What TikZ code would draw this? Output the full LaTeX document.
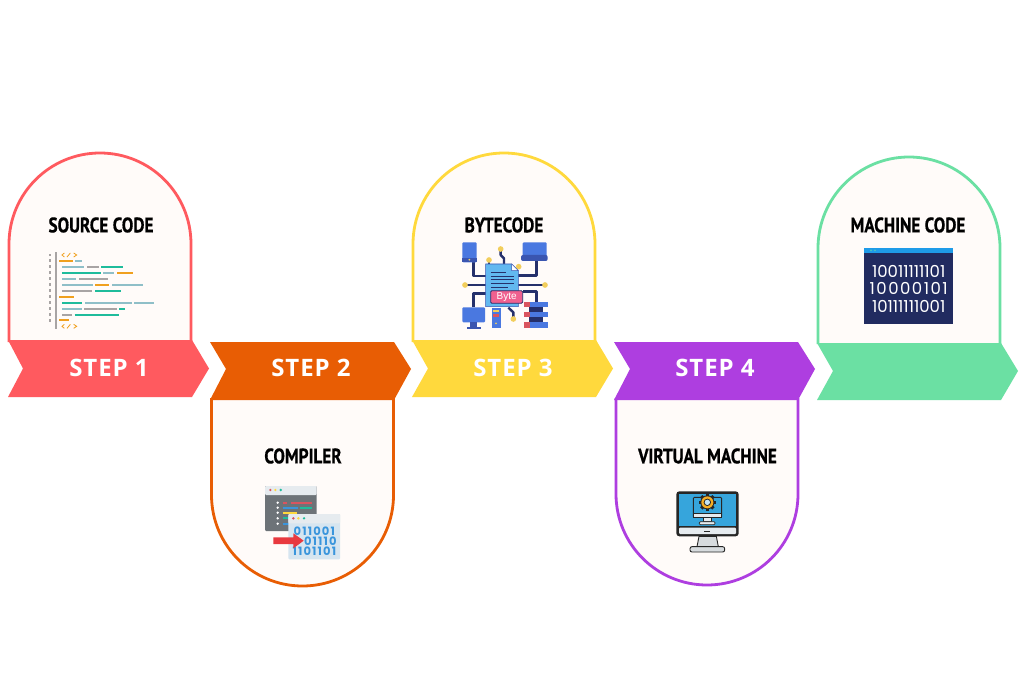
\documentclass[tikz,border=0pt]{standalone}
\usepackage{fontspec}
\setmainfont{Open Sans}
\newfontfamily\titlefont[BoldFeatures={FakeStretch=0.82,FakeBold=0.6}]{PT Sans}
\newfontfamily\stepfont[LetterSpace=4]{Open Sans}
\newfontfamily\binfont{Poppins}
\newfontfamily\binfontwide[LetterSpace=9]{Poppins}
\newfontfamily\compfont[LetterSpace=10]{Poppins}
\newfontfamily\bytefont{Liberation Sans}
\definecolor{cardfill}{HTML}{FFFBF9}
\definecolor{cA}{HTML}{FF5A5F}
\definecolor{cB}{HTML}{E85D04}
\definecolor{cC}{HTML}{FFD93D}
\definecolor{cD}{HTML}{AE3EE0}
\definecolor{cE}{HTML}{6BE0A3}
\definecolor{codeO}{HTML}{F0A01E}
\definecolor{codeL}{HTML}{8FBFC8}
\definecolor{codeG}{HTML}{A8A4A4}
\definecolor{codeT}{HTML}{1FBC9C}
\definecolor{navy}{HTML}{25306B}
\definecolor{devblue}{HTML}{4A78E0}
\definecolor{devdark}{HTML}{3A55B0}
\definecolor{wireY}{HTML}{F2CE5C}
\definecolor{fileblue}{HTML}{62B8F0}
\definecolor{tagpink}{HTML}{F0608F}
\definecolor{rackred}{HTML}{D9545F}
\definecolor{arrowred}{HTML}{E8393F}
\definecolor{barblue}{HTML}{1E9BE8}
\definecolor{wingray}{HTML}{6D7378}
\definecolor{winbar}{HTML}{E6EBEF}
\definecolor{winbody}{HTML}{D6E5F0}
\definecolor{binblue}{HTML}{3A95DC}
\definecolor{screenblue}{HTML}{36A5DC}
\newcommand{\zr}[5]{\fill[#1] (#2,#3) rectangle (#4,#5);}
\newcommand{\cbar}[4]{\draw[#1,line width=2pt] (#2,#4) -- (#3,#4);}
\tikzset{
  x=1pt,y=-1pt,
  cardline/.style={fill=cardfill,line width=2.8pt},
  title/.style={font=\titlefont\fontsize{21}{21}\selectfont\bfseries,text=black,inner sep=0pt},
  steptext/.style={font=\stepfont\fontsize{24}{24}\selectfont\bfseries,text=white,inner sep=0pt},
  wire/.style={draw=navy,line width=2.4pt,line join=round},
  compbin/.style={inner sep=0pt,text=binblue,font=\compfont\fontsize{11.5}{11.5}\selectfont\bfseries},
  machbin/.style={inner sep=0pt,text=white},
}
\begin{document}
\begin{tikzpicture}
\useasboundingbox[fill=white] (0,0) rectangle (1024,700);
% cards
\draw[cardline,draw=cA] (9,342) -- (9,244) .. controls (9,193.7) and (49.7,153) .. (100,153) .. controls (150.3,153) and (191,193.7) .. (191,244) -- (191,342);
\draw[cardline,draw=cC] (413,342) -- (413,244) .. controls (413,193.7) and (453.7,153) .. (504,153) .. controls (554.3,153) and (595,193.7) .. (595,244) -- (595,342);
\draw[cardline,draw=cE] (818,344) -- (818,248) .. controls (818,197.7) and (858.7,157) .. (909,157) .. controls (959.3,157) and (1000,197.7) .. (1000,248) -- (1000,344);
\draw[cardline,draw=cB] (211.5,398) -- (211.5,495) .. controls (211.5,545.3) and (252.2,586) .. (302.5,586) .. controls (352.8,586) and (393.5,545.3) .. (393.5,495) -- (393.5,398);
\draw[cardline,draw=cD] (616,398) -- (616,494) .. controls (616,544.3) and (656.7,585) .. (707,585) .. controls (757.3,585) and (798,544.3) .. (798,494) -- (798,398);
% ribbons
\fill[cA] (8,340) -- (192,340) -- (209,368.5) -- (192,397) -- (8,397) -- (23,368.5) -- cycle;
\fill[cB] (210,342) -- (394,342) -- (411,369) -- (394,400) -- (210,400) -- (226,369) -- cycle;
\fill[cC] (412,340) -- (596,340) -- (613,368.5) -- (596,397) -- (412,397) -- (428,368.5) -- cycle;
\fill[cD] (614,342) -- (798,342) -- (815,369) -- (798,400) -- (614,400) -- (630,369) -- cycle;
\fill[cE] (817,343) -- (1001,343) -- (1018,371) -- (1001,400) -- (817,400) -- (833,371) -- cycle;
% step labels
\node[steptext] (s1) at (109,367.5) {STEP 1};
\node[steptext] (s2) at (311,367.5) {STEP 2};
\node[steptext] (s3) at (513,367.5) {STEP 3};
\node[steptext] (s4) at (715,367.5) {STEP 4};
% titles
\node[title] (t1) at (101,225) {SOURCE CODE};
\node[title] (t2) at (303,456) {COMPILER};
\node[title] (t3) at (504,225) {BYTECODE};
\node[title] (t4) at (707.5,456) {VIRTUAL MACHINE};
\node[title] (t5) at (908,225) {MACHINE CODE};
% source code icon
\begin{scope}[shift={(35,240)},scale=1/3]
  \foreach \yy in {45,62,80,98,116,134,152,170,188,206,224,241} \fill[codeG] (41,\yy-4) rectangle (48,\yy+4);
  \zr{codeG}{61}{35}{66}{266}
  \foreach \yy in {45,259} {
    \draw[codeO,line width=.8pt] (88,\yy-6) -- (81,\yy) -- (88,\yy+6);
    \draw[codeO,line width=.8pt] (96,\yy+6) -- (106,\yy-6);
    \draw[codeO,line width=.8pt] (116,\yy-6) -- (125,\yy) -- (116,\yy+6);
  }
  \cbar{codeO}{72}{113}{62}\cbar{codeL}{120}{141}{62}
  \cbar{codeL}{82}{147}{80}\cbar{codeG}{156}{191}{80}\cbar{codeT}{198}{265}{80}
  \cbar{codeT}{82}{197}{98}\cbar{codeL}{205}{237}{98}\cbar{codeO}{246}{294}{98}
  \cbar{codeL}{82}{124}{116}\cbar{codeG}{132}{218}{116}
  \cbar{codeL}{82}{173}{134}\cbar{codeO}{181}{223}{134}\cbar{codeL}{231}{323}{134}
  \cbar{codeG}{82}{171}{152}\cbar{codeT}{180}{259}{152}
  \cbar{codeO}{72}{117}{170}
  \cbar{codeT}{82}{142}{188}\cbar{codeL}{150}{291}{188}\cbar{codeL}{298}{357}{188}
  \cbar{codeL}{82}{141}{206}\cbar{codeG}{148}{245}{206}\cbar{codeT}{253}{270}{206}
  \cbar{codeG}{82}{111}{224}\cbar{codeT}{119}{253}{224}
  \cbar{codeO}{72}{101}{241}
\end{scope}
% compiler icon
\begin{scope}[shift={(255,475)},scale=1/3]
  \fill[wingray,rounded corners=1pt] (30,33) rectangle (185,168);
  \fill[winbar,rounded corners=1pt] (30,33) rectangle (185,60);
  \foreach \xx/\cc in {46/rackred,61/cC,77/codeT} \fill[\cc] (\xx,45) circle (4);
  \foreach \yy in {83,98,113,130,146} \fill[white] (68,\yy) circle (4);
  \draw[rackred,line width=2pt] (83,83) -- (97,83) (107,83) -- (172,83);
  \draw[binblue,line width=2pt] (83,99) -- (130,99);
  \draw[codeT,line width=2pt] (135,99) -- (172,99);
  \draw[cC,line width=2pt] (83,114) -- (127,114);
  \draw[codeT,line width=2pt] (83,130) -- (125,130);
  \draw[binblue,line width=2pt] (83,146) -- (125,146);
  \fill[winbody,rounded corners=1pt] (100,117) rectangle (255,253);
  \fill[winbar,rounded corners=1pt] (100,117) rectangle (255,145);
  \foreach \xx/\cc in {115/rackred,130/cC,147/codeT} \fill[\cc] (\xx,130) circle (4);
  \node[compbin] (b1) at (178,170) {011001};
  \node[compbin] (b2) at (196,200) {01110};
  \node[compbin] (b3) at (178,230) {1101101};
  \fill[arrowred] (55,187) -- (115,187) -- (115,175) -- (146,197) -- (115,220) -- (115,207) -- (55,207) -- cycle;
\end{scope}
% bytecode icon
\begin{scope}[shift={(440,230)},scale=1/3]
  \draw[wire] (100,97) -- (100,138) -- (137,138);
  \draw[wire] (75,165) -- (137,165);
  \draw[wire] (100,232) -- (100,190) -- (137,190);
  \draw[wire] (147,90) -- (147,105);
  \draw[wire] (182,57) -- (182,75) -- (192,85) -- (192,102);
  \draw[wire] (290,93) -- (290,137) -- (235,137);
  \draw[wire] (315,165) -- (235,165);
  \draw[wire] (290,215) -- (290,185) -- (248,185);
  \draw[wire] (220,267) -- (220,247) -- (205,233);
  \foreach \px/\py in {182/57,147/90,236/110,75/165,315/165,220/267} \fill[wireY] (\px,\py) circle (8.5);
  \fill[devblue,rounded corners=1pt] (67,37) rectangle (110,97);
  \zr{devdark}{67}{83}{110}{97}
  \fill[wireY] (88,89) circle (3);
  \fill[devblue,rounded corners=1pt] (248,37) rectangle (320,80);
  \fill[devdark,rounded corners=2pt] (243,75) rectangle (323,93);
  \fill[devblue,rounded corners=1pt] (67,232) rectangle (135,277);
  \zr{devdark}{90}{277}{110}{292}
  \zr{devdark}{80}{291}{122}{298}
  \fill[fileblue,draw=devdark,line width=.6pt] (137,102) -- (215,102) -- (235,122) -- (235,230) -- (137,230) -- cycle;
  \fill[white,draw=devdark,line width=.4pt] (215,102) -- (235,122) -- (215,122) -- cycle;
  \foreach \yy/\xe in {127/197,138/222,149/222,160/222,171/205} \draw[navy,line width=.7pt] (152,\yy) -- (\xe,\yy);
  \fill[tagpink,draw=navy,line width=.8pt,rounded corners=1.2pt] (152,182) rectangle (248,220);
  \node[inner sep=0pt,text=white,font=\bytefont\fontsize{10}{10}\selectfont] (byte) at (200,201) {Byte};
  \zr{devblue}{155}{235}{182}{295}
  \zr{wireY}{160}{240}{177}{247}
  \zr{rackred}{160}{253}{177}{261}
  \fill[wireY] (168,280) circle (3);
  \zr{navy}{268}{232}{310}{245}
  \zr{navy}{268}{262}{310}{277}
  \zr{devblue}{268}{215}{323}{232}
  \zr{devblue}{268}{245}{323}{262}
  \zr{devblue}{268}{277}{323}{294}
  \zr{rackred}{253}{215}{270}{232}
  \zr{rackred}{253}{245}{270}{262}
  \zr{rackred}{253}{277}{270}{294}
\end{scope}
% virtual machine icon
\begin{scope}[shift={(655,480)},scale=1/3]
  \fill[black!85,rounded corners=3pt] (64,34) rectangle (251,169);
  \fill[screenblue] (72,42) rectangle (243,138);
  \fill[winbar,rounded corners=1pt] (72,143) rectangle (243,162);
  \zr{black!85}{148}{152}{166}{156}
  \fill[winbar!85!gray,draw=black!85,line width=.9pt] (132,169) -- (184,169) -- (190,200) -- (126,200) -- cycle;
  \fill[winbar!85!gray,draw=black!85,line width=.9pt,rounded corners=2pt] (105,200) rectangle (209,216);
  \fill[screenblue,draw=black!85,line width=.9pt,rounded corners=1pt] (115,52) rectangle (200,112);
  \fill[winbar,draw=black!85,line width=.7pt] (115,100) rectangle (200,112);
  \fill[winbar,draw=black!85,line width=.7pt] (145,112) rectangle (170,125);
  \fill[winbar,draw=black!85,line width=.7pt,rounded corners=1pt] (133,125) rectangle (180,134);
  \foreach \aa in {0,45,...,315} \fill[black!85,rotate around={\aa:(157,67)}] (152,41) rectangle (162,50);
  \fill[black!85] (157,67) circle (21);
  \fill[codeO!75!cC] (157,67) circle (18);
  \fill[black!85] (157,67) circle (11);
  \fill[screenblue!30!white] (157,67) circle (8);
\end{scope}
% machine code icon
\begin{scope}[shift={(840,235)},scale=1/3]
  \zr{navy!90!black}{72}{38}{340}{267}
  \zr{barblue}{72}{38}{340}{55}
  \fill[cE!60!barblue] (93,46) circle (3);
  \fill[cE!60!barblue] (105,46) circle (3);
  \node[machbin,font=\binfont\fontsize{16.5}{16.5}\selectfont] (m1) at (206,110) {10011111101};
  \node[machbin,font=\binfontwide\fontsize{16.5}{16.5}\selectfont] (m2) at (206,161) {10000101};
  \node[machbin,font=\binfont\fontsize{16.5}{16.5}\selectfont] (m3) at (206,213) {10111111001};
\end{scope}
\end{tikzpicture}
\end{document}
